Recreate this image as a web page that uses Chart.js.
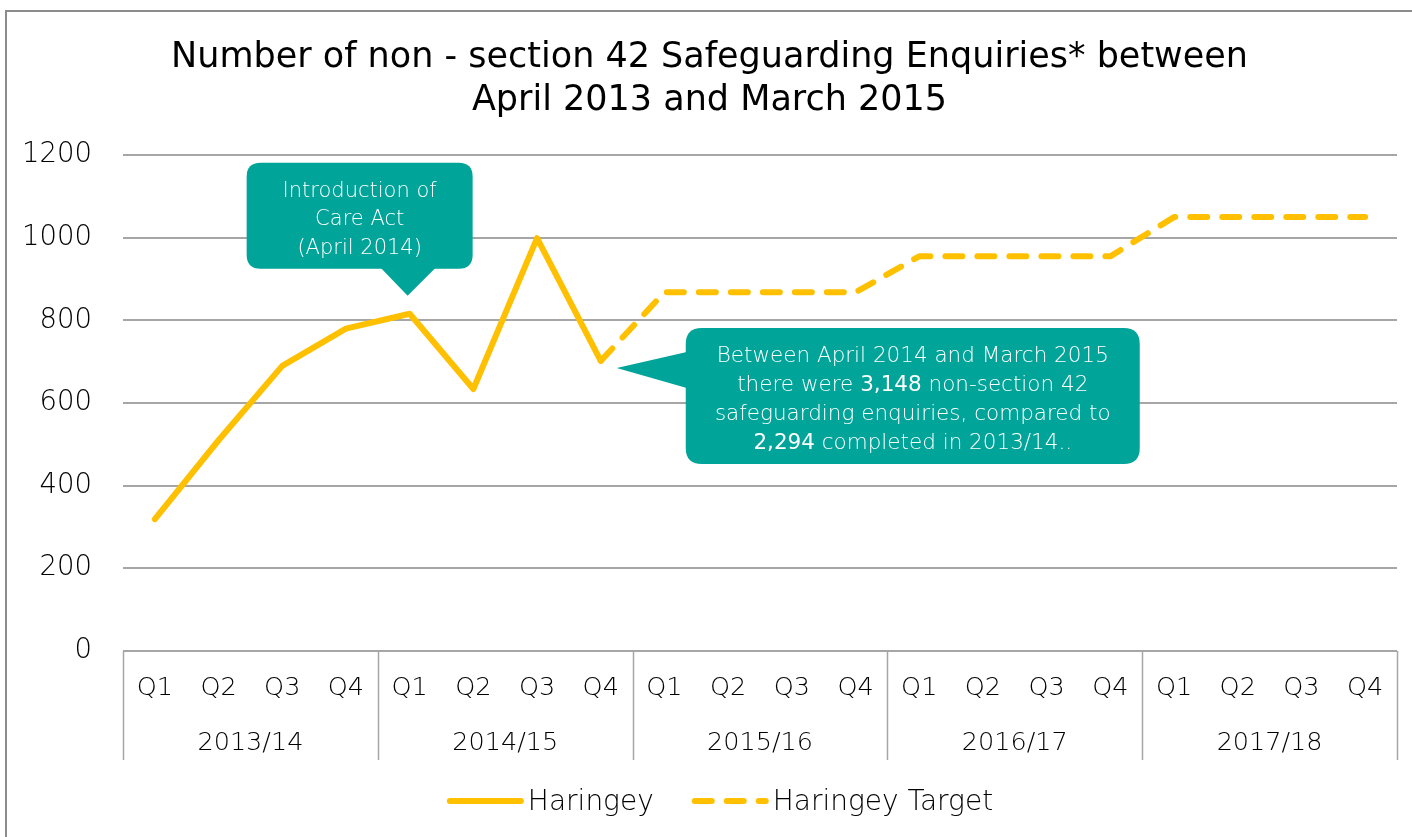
<!DOCTYPE html>
<html>
<head>
<meta charset="utf-8">
<script src="https://cdn.jsdelivr.net/npm/chart.js@4.4.1/dist/chart.umd.min.js"></script>
<style>
    html, body { margin: 0; padding: 0; background: #fff; }
    #wrap { width: 1412px; height: 837px; }
</style>
</head>
<body>
<div id="wrap"><canvas id="chart" width="1412" height="837"></canvas></div>
<script>
// Data
const quarters = ['Q1', 'Q2', 'Q3', 'Q4', 'Q1', 'Q2', 'Q3', 'Q4', 'Q1', 'Q2', 'Q3', 'Q4',
                  'Q1', 'Q2', 'Q3', 'Q4', 'Q1', 'Q2', 'Q3', 'Q4'];
const years = ['2013/14', '2014/15', '2015/16', '2016/17', '2017/18'];
const haringey = [319, 510, 690, 780, 816, 634, 999, 702,
                  null, null, null, null, null, null, null, null, null, null, null, null];
const haringeyTarget = [null, null, null, null, null, null, null, 702,
                        868, 868, 868, 868, 955, 955, 955, 955, 1050, 1050, 1050, 1050];
const yTicks = [0, 200, 400, 600, 800, 1000, 1200];
const titleLines = ['Number of non - section 42 Safeguarding Enquiries* between', 'April 2013 and March 2015'];
const careActNote = [[['Introduction of', false]], [['Care Act', false]], [['(April 2014)', false]]];
const totalsNote = [
    [['Between April 2014 and March 2015', false]],
    [['there were ', false], ['3,148', true], [' non-section 42', false]],
    [['safeguarding enquiries, compared to', false]],
    [['2,294', true], [' completed in 2013/14..', false]]
];

const FONT = '"DejaVu Sans", sans-serif';
const yellow = '#FFC000';
const teal = '#00A499';
const gridColor = '#a6a6a6';

// Outer frame
const framePlugin = {
    id: 'frame',
    beforeDraw(chart) {
        const ctx = chart.ctx;
        ctx.save();
        ctx.fillStyle = '#fff';
        ctx.fillRect(0, 0, chart.width, chart.height);
        ctx.strokeStyle = '#8c8c8c';
        ctx.lineWidth = 2;
        ctx.strokeRect(6, 11, chart.width + 20, chart.height + 20);
        ctx.restore();
    }
};

// Year groups under the quarter labels
const yearGroupsPlugin = {
    id: 'yearGroups',
    afterDraw(chart) {
        const ctx = chart.ctx;
        const x = chart.scales.x;
        const top = chart.chartArea.bottom;
        const bottom = top + 109;
        ctx.save();
        ctx.strokeStyle = gridColor;
        ctx.lineWidth = 1.5;
        for (let i = 0; i <= years.length; i++) {
            const px = Math.round(x.getPixelForValue(i * 4 - 0.5)) + 0.5;
            ctx.beginPath();
            ctx.moveTo(px, top);
            ctx.lineTo(px, bottom);
            ctx.stroke();
        }
        ctx.fillStyle = '#000';
        ctx.font = '200 25.5px ' + FONT;
        ctx.textAlign = 'center';
        ctx.textBaseline = 'middle';
        years.forEach((y, i) => {
            ctx.fillText(y, x.getPixelForValue(i * 4 + 1.5), top + 92);
        });
        ctx.restore();
    }
};

function roundRect(ctx, l, t, r, b, rad) {
    ctx.moveTo(l + rad, t);
    ctx.lineTo(r - rad, t);
    ctx.quadraticCurveTo(r, t, r, t + rad);
    ctx.lineTo(r, b - rad);
    ctx.quadraticCurveTo(r, b, r - rad, b);
    ctx.lineTo(l + rad, b);
    ctx.quadraticCurveTo(l, b, l, b - rad);
    ctx.lineTo(l, t + rad);
    ctx.quadraticCurveTo(l, t, l + rad, t);
    ctx.closePath();
}

function drawRichLines(ctx, lines, cx, cy, lineH, size) {
    const start = cy - (lines.length - 1) * lineH / 2;
    lines.forEach((segs, i) => {
        let w = 0;
        segs.forEach(s => {
            ctx.font = (s[1] ? 'normal ' : '200 ') + size + 'px ' + FONT;
            w += ctx.measureText(s[0]).width;
        });
        let px = cx - w / 2;
        segs.forEach(s => {
            ctx.font = (s[1] ? 'normal ' : '200 ') + size + 'px ' + FONT;
            ctx.fillText(s[0], px, start + i * lineH);
            px += ctx.measureText(s[0]).width;
        });
    });
}

// Callouts, anchored on data points
const calloutPlugin = {
    id: 'callouts',
    afterDatasetsDraw(chart) {
        const ctx = chart.ctx;
        const p1 = chart.getDatasetMeta(0).data[4];
        const p2 = chart.getDatasetMeta(0).data[7];
        ctx.save();
        ctx.fillStyle = teal;
        ctx.textAlign = 'left';
        ctx.textBaseline = 'middle';

        // Care Act callout (pointer down)
        let tx = p1.x - 2, ty = p1.y - 18;
        let l = tx - 161, r = tx + 65, t = ty - 133, b = ty - 27;
        ctx.beginPath();
        roundRect(ctx, l, t, r, b, 14);
        ctx.fill();
        ctx.beginPath();
        ctx.moveTo(tx - 27, b - 1);
        ctx.lineTo(tx, ty);
        ctx.lineTo(tx + 28, b - 1);
        ctx.closePath();
        ctx.fill();
        ctx.fillStyle = '#fff';
        drawRichLines(ctx, careActNote, (l + r) / 2, (t + b) / 2 + 4, 28.5, 21);

        // Totals callout (pointer left)
        ctx.fillStyle = teal;
        tx = p2.x + 16; ty = p2.y + 7;
        l = tx + 69; r = tx + 523; t = ty - 40; b = ty + 96;
        ctx.beginPath();
        roundRect(ctx, l, t, r, b, 16);
        ctx.fill();
        ctx.beginPath();
        ctx.moveTo(l + 1, ty - 16);
        ctx.lineTo(tx, ty);
        ctx.lineTo(l + 1, ty + 20);
        ctx.closePath();
        ctx.fill();
        ctx.fillStyle = '#fff';
        drawRichLines(ctx, totalsNote, (l + r) / 2, (t + b) / 2 + 4, 28.7, 21.5);
        ctx.restore();
    }
};

// Legend with line samples
const legendPlugin = {
    id: 'lineLegend',
    afterDraw(chart) {
        const ctx = chart.ctx;
        const items = chart.data.datasets.map(d => ({ label: d.label, dash: d.borderDash || [] }));
        const sample = 77, gapText = 4, gapItem = 38;
        ctx.save();
        ctx.font = '200 28px ' + FONT;
        let total = 0;
        items.forEach((it, i) => {
            it.w = ctx.measureText(it.label).width;
            total += sample + gapText + it.w + (i ? gapItem : 0);
        });
        let x = 720 - total / 2;
        const y = 801;
        items.forEach((it, i) => {
            if (i) x += gapItem;
            ctx.strokeStyle = yellow;
            ctx.lineWidth = 6;
            ctx.lineCap = 'round';
            ctx.setLineDash(it.dash);
            ctx.beginPath();
            ctx.moveTo(x + 3, y);
            ctx.lineTo(x + sample - 3, y);
            ctx.stroke();
            ctx.setLineDash([]);
            x += sample + gapText;
            ctx.fillStyle = '#000';
            ctx.textBaseline = 'middle';
            ctx.fillText(it.label, x, y + 2);
            x += it.w;
        });
        ctx.restore();
    }
};

new Chart(document.getElementById('chart'), {
    type: 'line',
    data: {
        labels: quarters,
        datasets: [
            {
                label: 'Haringey',
                data: haringey,
                borderColor: yellow,
                borderWidth: 6,
                borderCapStyle: 'round',
                borderJoinStyle: 'round',
                pointRadius: 0,
                tension: 0,
                fill: false
            },
            {
                label: 'Haringey Target',
                data: haringeyTarget,
                borderColor: yellow,
                borderWidth: 6,
                borderDash: [17, 15],
                borderCapStyle: 'round',
                borderJoinStyle: 'round',
                pointRadius: 0,
                tension: 0,
                fill: false
            }
        ]
    },
    options: {
        responsive: false,
        animation: false,
        layout: { padding: { top: 12, left: 22, right: 15, bottom: 77 } },
        plugins: {
            legend: { display: false },
            tooltip: { enabled: false },
            title: {
                display: true,
                text: titleLines,
                color: '#000',
                font: { family: FONT, size: 35, weight: 'normal', lineHeight: 1.23 },
                padding: { top: 24.5, bottom: 32.5 }
            }
        },
        scales: {
            x: {
                offset: true,
                grid: { display: false },
                border: { display: false },
                ticks: {
                    color: '#000',
                    font: { family: FONT, size: 25.5, weight: '200' },
                    padding: 14,
                    maxRotation: 0,
                    autoSkip: false
                },
                afterFit(scale) { scale.height = 109; }
            },
            y: {
                min: 0,
                max: 1200,
                border: { display: false },
                grid: { color: gridColor, lineWidth: 2, drawTicks: false },
                ticks: {
                    color: '#000',
                    font: { family: FONT, size: 27.5, weight: '200' },
                    padding: 31,
                    callback: v => String(v)
                },
                afterBuildTicks(scale) { scale.ticks = yTicks.map(v => ({ value: v })); },
                afterFit(scale) { scale.width = 101; }
            }
        }
    },
    plugins: [framePlugin, yearGroupsPlugin, calloutPlugin, legendPlugin]
});
</script>
</body>
</html>
